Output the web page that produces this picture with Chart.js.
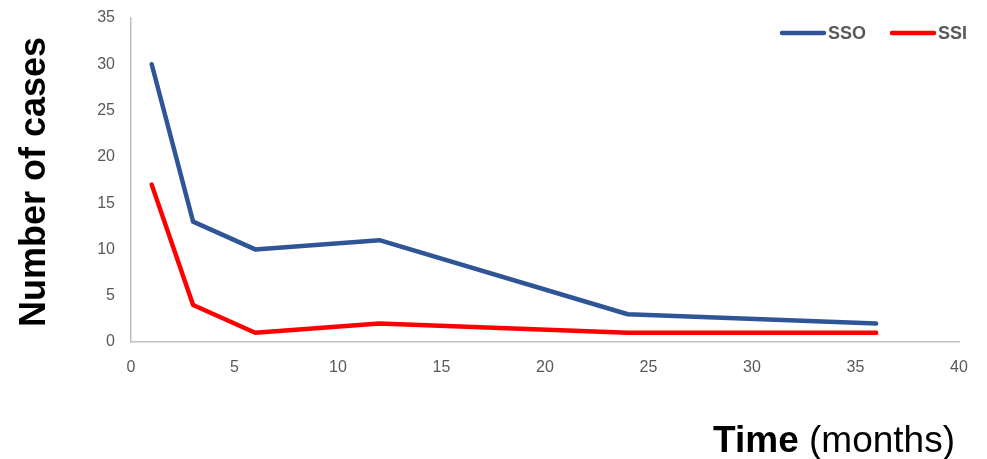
<!DOCTYPE html>
<html>
<head>
<meta charset="utf-8">
<script src="https://cdn.jsdelivr.net/npm/chart.js@4.4.0/dist/chart.umd.min.js"></script>
<style>
  html, body { margin: 0; padding: 0; background: #fff; }
  #wrap { width: 987px; height: 459px; position: relative; }
</style>
</head>
<body>
<div id="wrap"><canvas id="chart"></canvas></div>
<script>
const months = [1, 3, 6, 12, 24, 36];
const ssoCases = [30, 13, 10, 11, 3, 2];
const ssiCases = [17, 4, 1, 2, 1, 1];
const seriesNames = ['SSO', 'SSI'];
const seriesColors = ['#2F5597', '#FF0000'];

const toPoints = (values) => values.map((v, i) => ({ x: months[i], y: v }));

// axis titles and legend drawn by hand (mixed bold / regular text)
const decorPlugin = {
  id: 'decor',
  afterDraw(chart) {
    const { ctx } = chart;
    ctx.save();

    // y title
    ctx.translate(35, 182);
    ctx.rotate(-Math.PI / 2);
    ctx.font = 'bold 36px "Liberation Sans", Arial, sans-serif';
    ctx.fillStyle = '#000';
    ctx.textAlign = 'center';
    ctx.textBaseline = 'middle';
    ctx.fillText('Number of cases', 0, 0);
    ctx.setTransform(1, 0, 0, 1, 0, 0);

    // x title
    ctx.textAlign = 'left';
    ctx.textBaseline = 'alphabetic';
    ctx.font = 'bold 37px "Liberation Sans", Arial, sans-serif';
    const boldPart = 'Time';
    const wBold = ctx.measureText(boldPart + ' ').width;
    ctx.font = '37px "Liberation Sans", Arial, sans-serif';
    const wReg = ctx.measureText('(months)').width;
    const startX = 955 - wBold - wReg;
    ctx.font = 'bold 37px "Liberation Sans", Arial, sans-serif';
    ctx.fillText(boldPart, startX, 452);
    ctx.font = '37px "Liberation Sans", Arial, sans-serif';
    ctx.fillText('(months)', startX + wBold, 452);

    // legend
    const legendX = [782, 892];
    ctx.font = 'bold 18px "Liberation Sans", Arial, sans-serif';
    ctx.textBaseline = 'middle';
    seriesNames.forEach((name, i) => {
      ctx.strokeStyle = seriesColors[i];
      ctx.lineWidth = 4.5;
      ctx.lineCap = 'round';
      ctx.beginPath();
      ctx.moveTo(legendX[i], 33);
      ctx.lineTo(legendX[i] + 42, 33);
      ctx.stroke();
      ctx.fillStyle = '#595959';
      ctx.fillText(name, legendX[i] + 46, 34);
    });
    ctx.restore();
  },
};

const tickFont = { family: '"Liberation Sans", Arial, sans-serif', size: 16 };

new Chart(document.getElementById('chart').getContext('2d'), {
  type: 'line',
  data: {
    datasets: [
      {
        label: seriesNames[0],
        data: toPoints(ssoCases),
        borderColor: seriesColors[0],
        borderWidth: 4.5,
        pointRadius: 0,
        tension: 0,
        borderJoinStyle: 'round',
        borderCapStyle: 'round',
      },
      {
        label: seriesNames[1],
        data: toPoints(ssiCases),
        borderColor: seriesColors[1],
        borderWidth: 4.5,
        pointRadius: 0,
        tension: 0,
        borderJoinStyle: 'round',
        borderCapStyle: 'round',
      },
    ],
  },
  options: {
    responsive: true,
    maintainAspectRatio: false,
    animation: false,
    layout: { autoPadding: false, padding: { top: 18, right: 28, left: 0, bottom: 0 } },
    plugins: {
      legend: { display: false },
      tooltip: { enabled: false },
    },
    scales: {
      x: {
        type: 'linear',
        min: 0,
        max: 40,
        ticks: { stepSize: 5, color: '#595959', font: tickFont, padding: 16, maxRotation: 0 },
        grid: { color: 'transparent', drawTicks: false },
        border: { display: true, color: '#BFBFBF', width: 1.5 },
        afterFit(scale) {
          scale.height = 117;
          scale.paddingLeft = 0;
          scale.paddingRight = 0;
        },
      },
      y: {
        min: 0,
        max: 35,
        ticks: { stepSize: 5, color: '#595959', font: tickFont, padding: 16 },
        grid: { color: 'transparent', drawTicks: false },
        border: { display: true, color: '#BFBFBF', width: 1.5 },
        afterFit(scale) {
          scale.width = 131;
          scale.paddingTop = 0;
          scale.paddingBottom = 0;
        },
      },
    },
  },
  plugins: [decorPlugin],
});
</script>
</body>
</html>
